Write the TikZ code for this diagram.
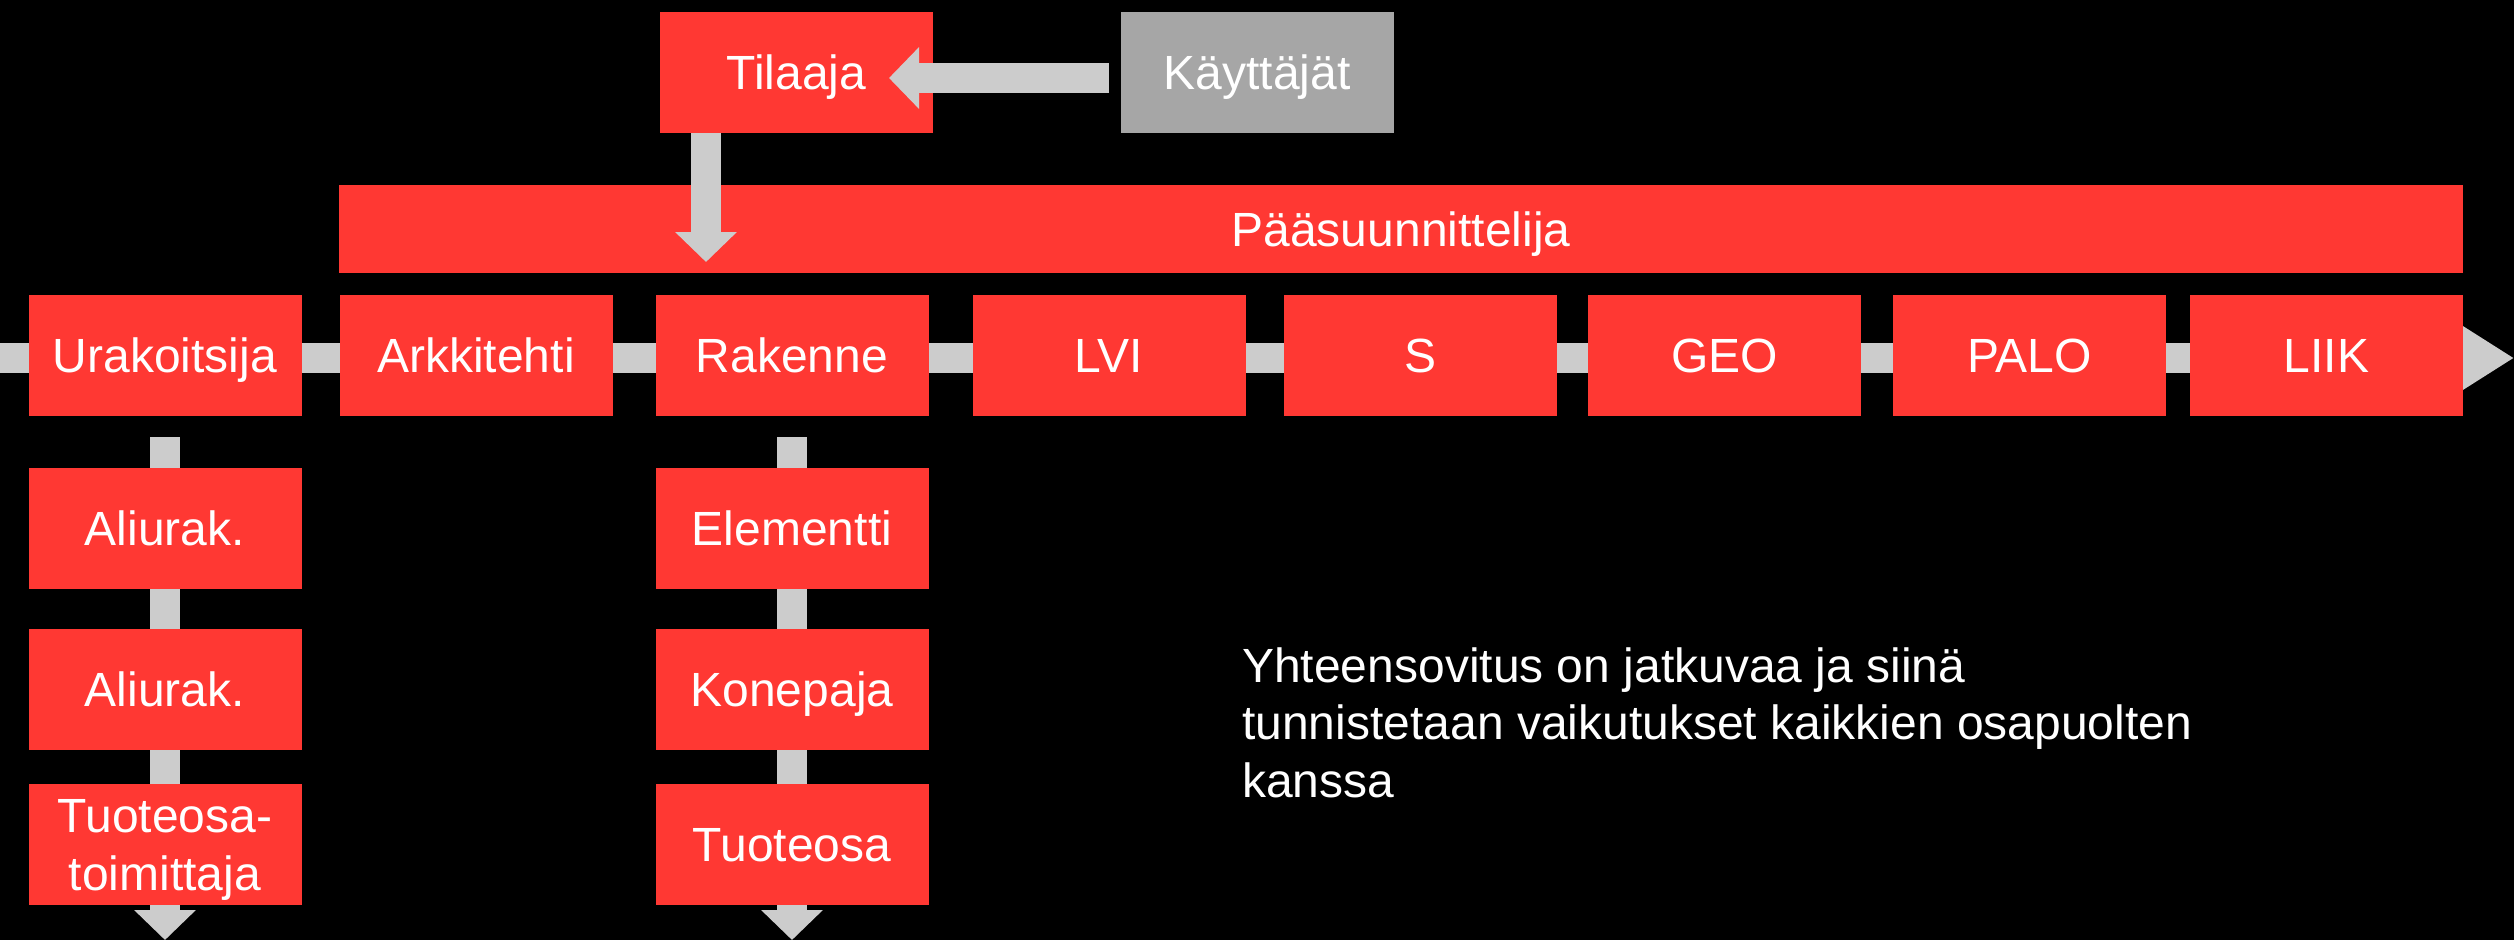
\documentclass[tikz,border=0pt]{standalone}
\usepackage{fontspec}
\setmainfont{Liberation Sans}
\usetikzlibrary{arrows.meta}
\definecolor{boxred}{HTML}{FF3833}
\definecolor{usergray}{HTML}{A6A6A6}
\definecolor{arrowgray}{HTML}{CCCCCC}
\pgfdeclarelayer{bg}
\pgfdeclarelayer{bars}
\pgfsetlayers{bg,bars,main}
\begin{document}
\begin{tikzpicture}[x=1pt,y=-1pt,
  box/.style={fill=boxred, text=white, inner sep=0pt, minimum width=273pt, minimum height=121pt,
    font=\fontsize{48}{57.6}\selectfont, text height=34.4pt, text depth=0pt, align=center},
  userbox/.style={box, fill=usergray},
  widebox/.style={box, minimum width=2124pt, minimum height=88pt},
  flow/.style={draw=arrowgray, line width=30pt, -{Triangle[width=60pt,length=30pt]}},
  mainflow/.style={flow, -{Triangle[width=60pt,length=51pt]}},
  note/.style={text=white, inner sep=0pt, anchor=base west, font=\fontsize{48}{57.6}\selectfont}
]
\begin{pgfonlayer}{bg}
  \fill[black] (0,0) rectangle (2514,940);
\end{pgfonlayer}
\useasboundingbox (0,0) rectangle (2514,940);

% top
\node[box] (til) at (796.5,72.5) {Tilaaja};
\node[userbox] (kay) at (1257,72.5) {Käyttäjät};
\node[widebox] (paa) at (1401,229) {Pääsuunnittelija};

% row
\node[box] (ura) at (165,355.5) {Urakoitsija};
\node[box] (ark) at (476,355.5) {Arkkitehti};
\node[box] (rak) at (792,355.5) {Rakenne};
\node[box] (lvi) at (1109,355.5) {LVI};
\node[box] (s)   at (1420.5,355.5) {S};
\node[box] (geo) at (1724.5,355.5) {GEO};
\node[box] (palo) at (2029.5,355.5) {PALO};
\node[box] (liik) at (2326.5,355.5) {LIIK};

% columns
\node[box] (ali1) at (165,528.5) {Aliurak.};
\node[box] (ali2) at (165,689.5) {Aliurak.};
\node[box, text height=92pt] (tto) at (165,844.5) {Tuoteosa-\\toimittaja};
\node[box] (ele) at (792,528.5) {Elementti};
\node[box] (kon) at (792,689.5) {Konepaja};
\node[box] (tuo) at (792,844.5) {Tuoteosa};

% connector end points
\coordinate (mainstart) at (0,358);
\coordinate (mainend) at (2514,358);
\coordinate (leftstart) at (165,437);
\coordinate (leftend) at (165,940);
\coordinate (rightstart) at (792,437);
\coordinate (rightend) at (792,940);
\coordinate (kaystart) at (1109,78);
\coordinate (tilend) at (889,78);
\coordinate (tilstart) at (706,133);
\coordinate (paaend) at (706,262);

\begin{pgfonlayer}{bars}
  \draw[mainflow] (mainstart) -- (mainend);
  \draw[flow] (leftstart) -- (leftend);
  \draw[flow] (rightstart) -- (rightend);
\end{pgfonlayer}

\draw[flow] (kaystart) -- (tilend);
\draw[flow] (tilstart) -- (paaend);

% note
\node[note] (n1) at (1242,682) {Yhteensovitus on jatkuvaa ja siinä};
\node[note] (n2) at (1242,739.5) {tunnistetaan vaikutukset kaikkien osapuolten};
\node[note] (n3) at (1242,797) {kanssa};
\end{tikzpicture}
\end{document}
